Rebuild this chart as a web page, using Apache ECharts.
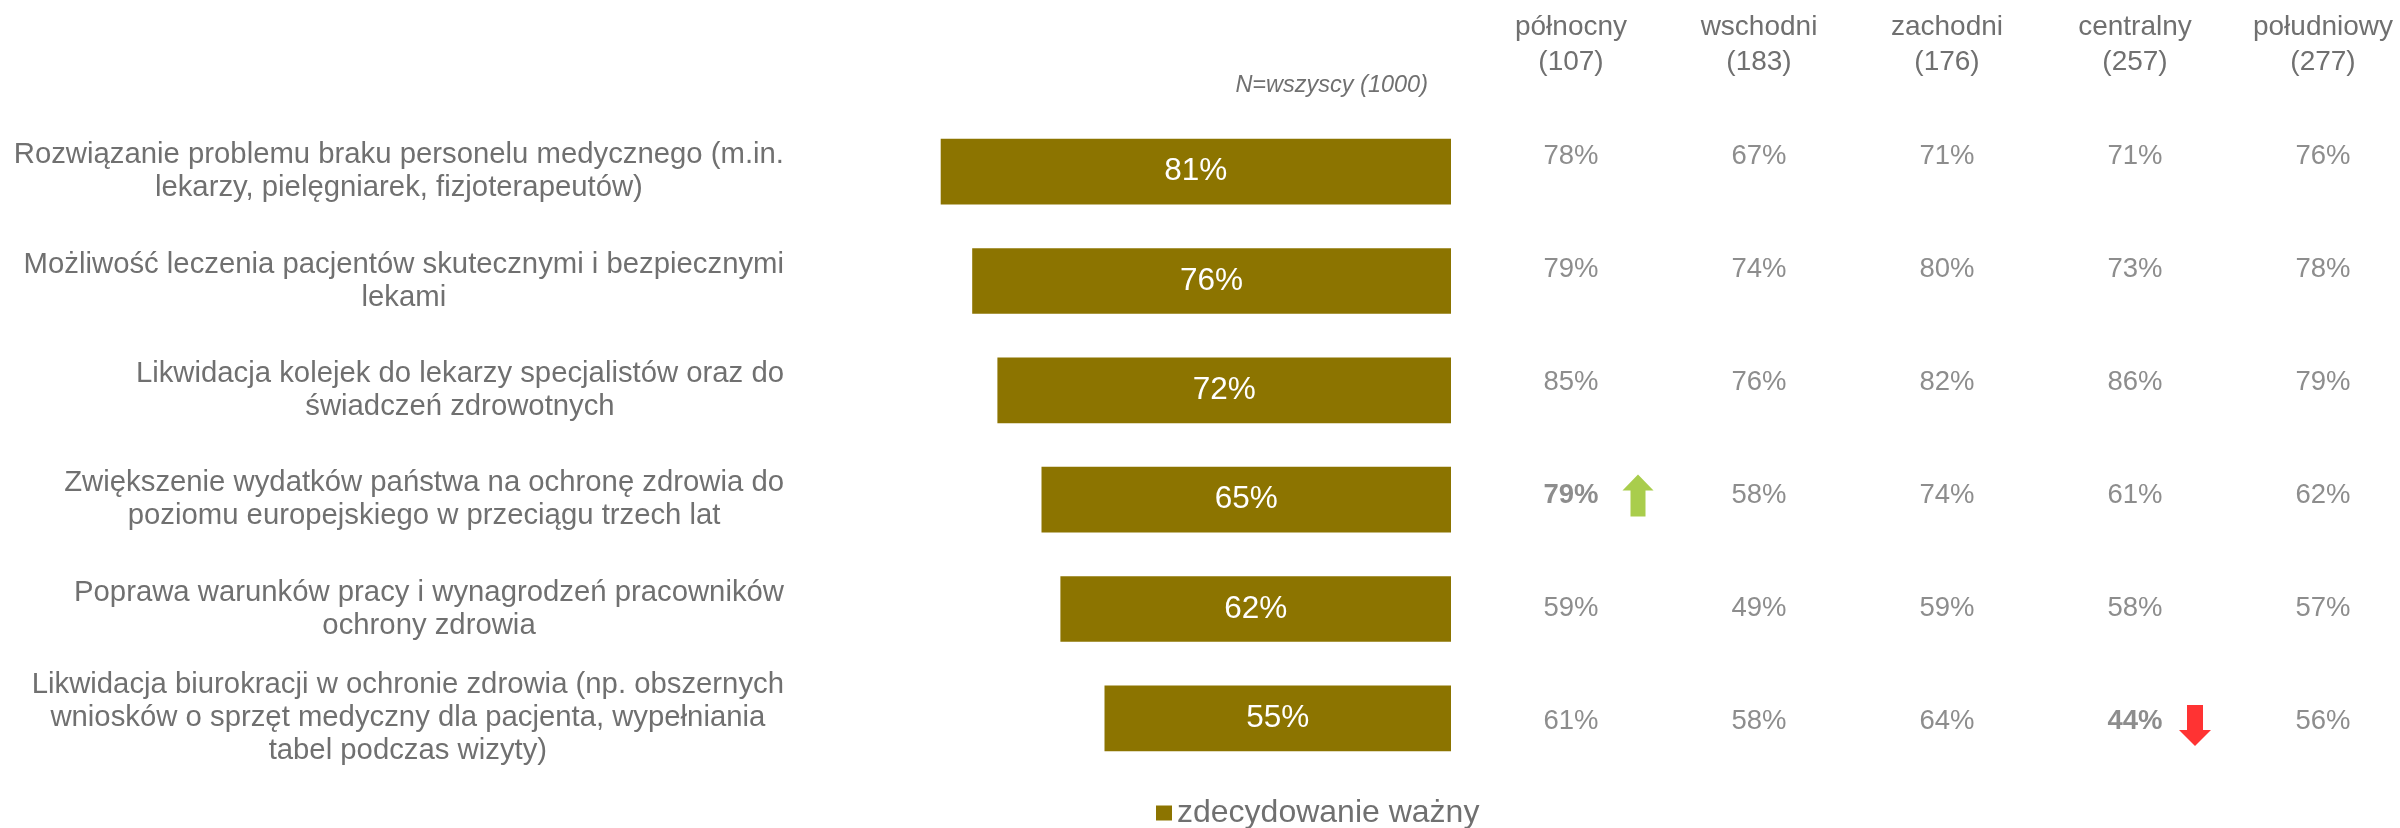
<!DOCTYPE html>
<html>
<head>
<meta charset="utf-8">
<title>Priorytety w ochronie zdrowia</title>
<script src="https://cdn.jsdelivr.net/npm/echarts@6/dist/echarts.min.js"></script>
<style>
  html, body { margin: 0; padding: 0; background: #ffffff; }
  #chart { width: 2400px; height: 828px; }
</style>
</head>
<body>
<div id="chart"></div>
<script>
// Statements (rows), top to bottom
const categories = [
  'Rozwiązanie problemu braku personelu medycznego (m.in.\nlekarzy, pielęgniarek, fizjoterapeutów)',
  'Możliwość leczenia pacjentów skutecznymi i bezpiecznymi\nlekami',
  'Likwidacja kolejek do lekarzy specjalistów oraz do\nświadczeń zdrowotnych',
  'Zwiększenie wydatków państwa na ochronę zdrowia do\npoziomu europejskiego w przeciągu trzech lat',
  'Poprawa warunków pracy i wynagrodzeń pracowników\nochrony zdrowia',
  'Likwidacja biurokracji w ochronie zdrowia (np. obszernych\nwniosków o sprzęt medyczny dla pacjenta, wypełniania\ntabel podczas wizyty)'
];

// Whole sample, share answering "zdecydowanie ważny" (%)
const totalValues = [81, 76, 72, 65, 62, 55];

// Regions and their sample sizes
const regionNames = ['północny', 'wschodni', 'zachodni', 'centralny', 'południowy'];
const regionBase = [107, 183, 176, 257, 277];

// Region results per statement (%)
const valuesPolnocny   = [78, 79, 85, 79, 59, 61];
const valuesWschodni   = [67, 74, 76, 58, 49, 58];
const valuesZachodni   = [71, 80, 82, 74, 59, 64];
const valuesCentralny  = [71, 73, 86, 61, 58, 44];
const valuesPoludniowy = [76, 78, 79, 62, 57, 56];
const regionValues = [valuesPolnocny, valuesWschodni, valuesZachodni, valuesCentralny, valuesPoludniowy];

// Significant differences vs. the rest of the sample: [region index, row index, direction]
const significantCells = [
  [0, 3, 'up'],
  [3, 5, 'down']
];

const TEXT_GRAY = '#707070';
const BAR_COLOR = '#8c7400';
const FONT = '"Liberation Sans", Arial, sans-serif';

const ARROW_UP = 'path://M15.5,0 L31,16 L23,16 L23,42 L8,42 L8,16 L0,16 Z';
const ARROW_DOWN = 'path://M8,0 L24,0 L24,25 L32,25 L16,41 L0,25 L8,25 Z';

const isSignificant = (r, c) => significantCells.some(s => s[0] === r && s[1] === c);

// Table cells: [region index, row index, value]
const tableData = [];
regionValues.forEach((vals, r) => {
  vals.forEach((v, c) => {
    tableData.push({
      value: [r, c, v],
      label: { fontWeight: isSignificant(r, c) ? 'bold' : 'normal' }
    });
  });
});

const arrowData = significantCells.map(([r, c, dir]) => ({
  value: [r, c],
  symbol: dir === 'up' ? ARROW_UP : ARROW_DOWN,
  symbolSize: dir === 'up' ? [31, 42] : [32, 41],
  symbolOffset: dir === 'up' ? [67, 0] : [60, 4],
  itemStyle: { color: dir === 'up' ? '#93c01f' : '#ff0000' }
}));

const chart = echarts.init(document.getElementById('chart'), null, { renderer: 'canvas' });

chart.setOption({
  backgroundColor: '#ffffff',
  animation: false,
  textStyle: { fontFamily: FONT },
  title: {
    text: 'N=wszyscy (1000)',
    right: 972,
    top: 74,
    padding: 0,
    textStyle: { fontSize: 23.5, fontStyle: 'italic', fontWeight: 'normal', color: TEXT_GRAY, fontFamily: FONT }
  },
  legend: {
    data: ['zdecydowanie ważny'],
    left: 1156,
    top: 797,
    padding: 0,
    icon: 'rect',
    itemWidth: 16,
    itemHeight: 15,
    itemGap: 6,
    textStyle: { fontSize: 32, color: TEXT_GRAY, fontFamily: FONT }
  },
  grid: [
    { left: 821, right: 949, top: 117, height: 656, containLabel: false },
    { left: 1571, right: 77, top: 100, height: 678, containLabel: false }
  ],
  xAxis: [
    {
      gridIndex: 0, type: 'value', min: 0, max: 100, inverse: true,
      show: false
    },
    {
      gridIndex: 1, type: 'category', position: 'top', boundaryGap: false,
      data: regionNames.map((n, i) => n + '\n(' + regionBase[i] + ')'),
      axisLine: { show: false }, axisTick: { show: false }, splitLine: { show: false },
      axisLabel: {
        show: true, interval: 0, margin: 20,
        fontSize: 28, lineHeight: 35, color: TEXT_GRAY, fontFamily: FONT, align: 'center'
      }
    }
  ],
  yAxis: [
    {
      gridIndex: 0, type: 'category', inverse: true, data: categories,
      position: 'left',
      axisLine: { show: false, onZero: false }, axisTick: { show: false }, splitLine: { show: false },
      axisLabel: {
        show: true, interval: 0, margin: 37, align: 'right',
        formatter: v => v.split('\n').map(l => '{c|' + l + '}').join('\n'),
        rich: { c: { align: 'center', fontSize: 29.3, lineHeight: 33, color: TEXT_GRAY, fontFamily: FONT } }
      }
    },
    {
      gridIndex: 1, type: 'category', inverse: true,
      data: categories.map((_, i) => i),
      show: false
    }
  ],
  series: [
    {
      name: 'zdecydowanie ważny',
      type: 'bar',
      xAxisIndex: 0, yAxisIndex: 0,
      data: totalValues,
      barCategoryGap: '40%',
      itemStyle: { color: BAR_COLOR },
      label: {
        show: true, position: 'inside', formatter: p => p.value + '%',
        color: '#ffffff', fontSize: 31.5, fontFamily: FONT
      }
    },
    {
      name: 'regiony',
      type: 'scatter',
      xAxisIndex: 1, yAxisIndex: 1,
      data: tableData,
      symbolSize: 1,
      itemStyle: { color: 'rgba(0,0,0,0)' },
      label: {
        show: true, position: 'inside',
        formatter: p => p.value[2] + '%',
        color: TEXT_GRAY, fontSize: 27.5, fontFamily: FONT
      },
      silent: true
    },
    {
      name: 'istotność',
      type: 'scatter',
      xAxisIndex: 1, yAxisIndex: 1,
      data: arrowData,
      silent: true
    }
  ]
});
</script>
</body>
</html>
